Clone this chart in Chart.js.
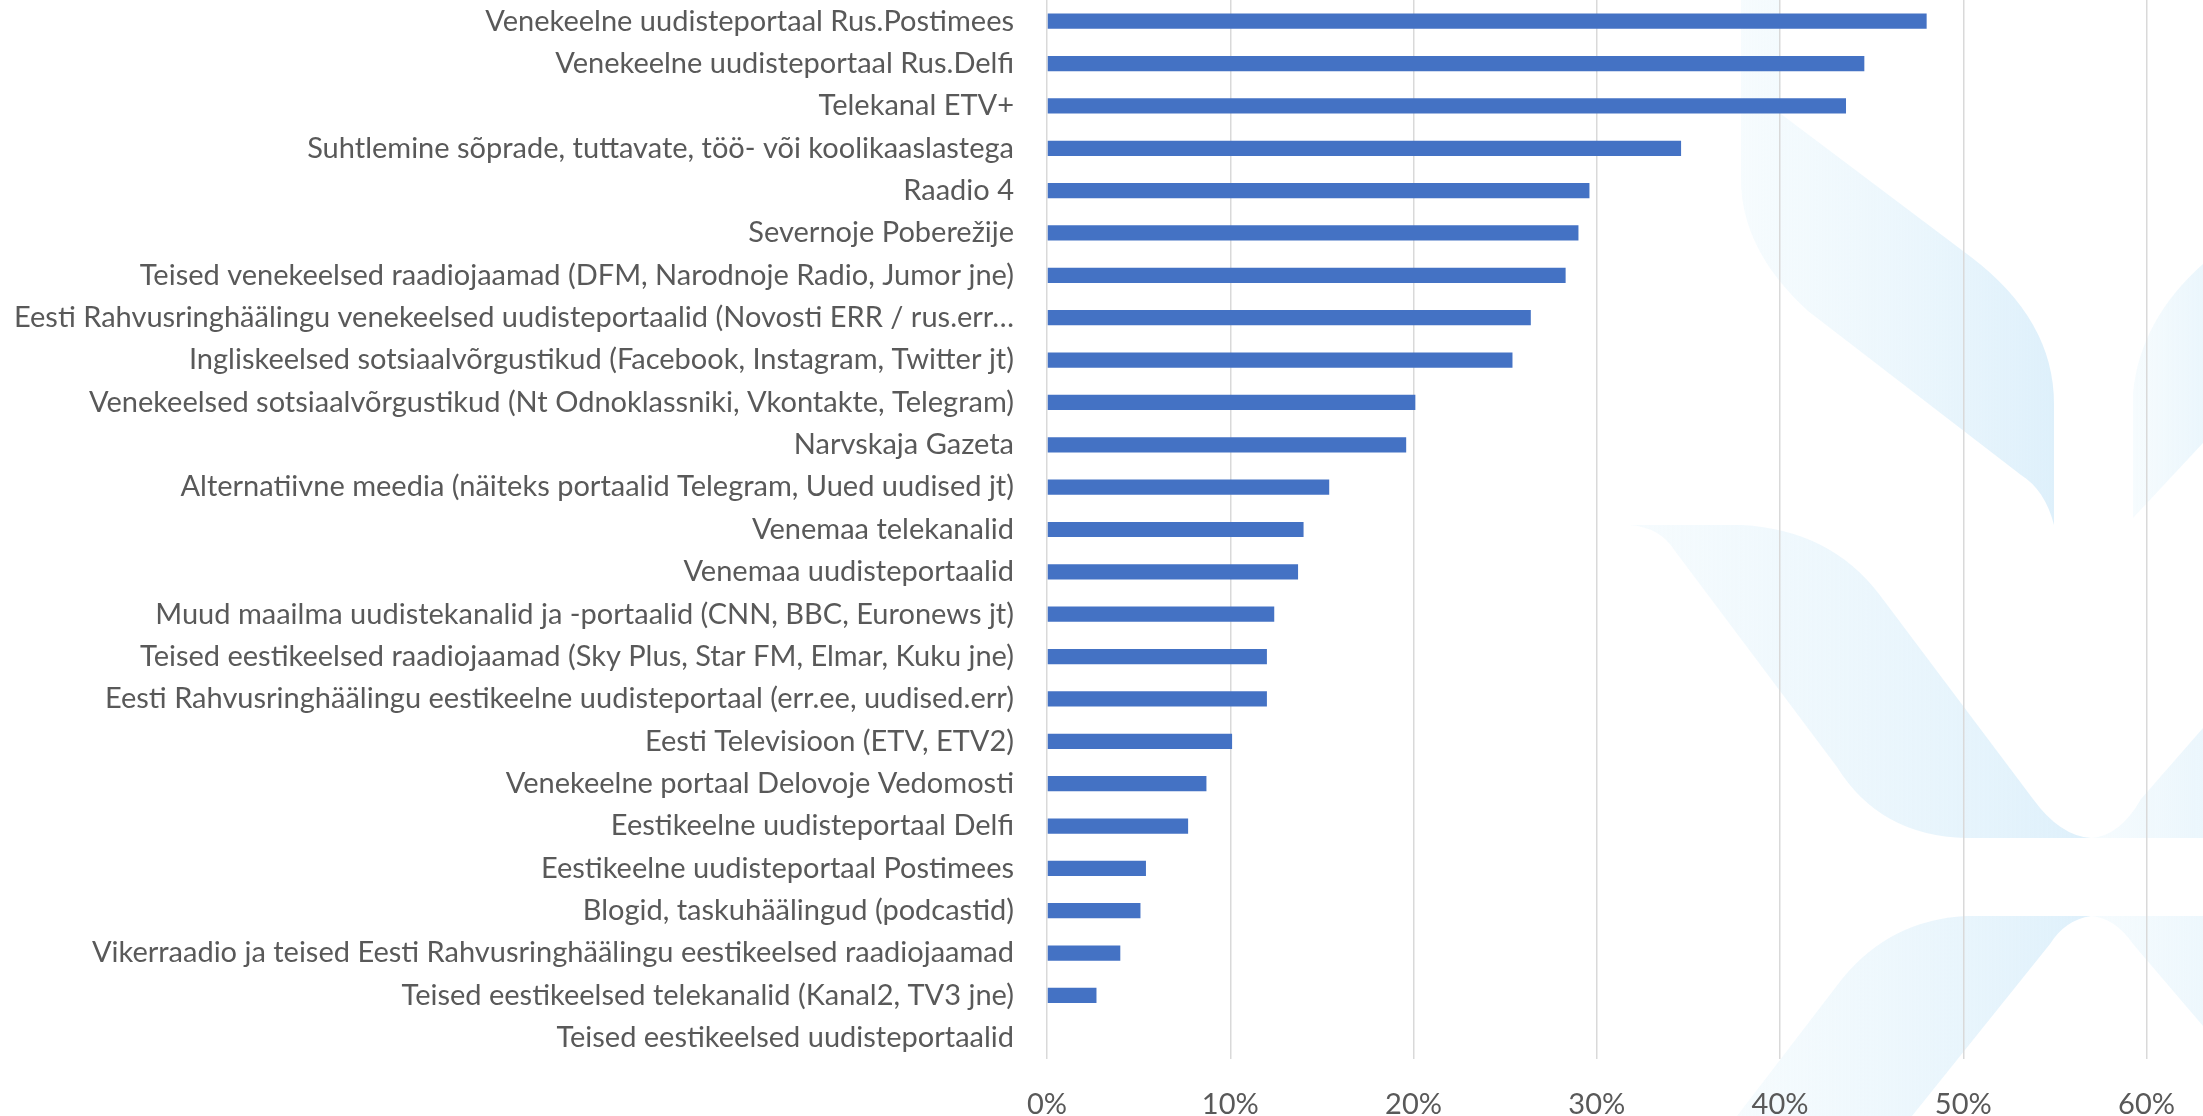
<!DOCTYPE html>
<html>
<head>
<meta charset="utf-8">
<script src="https://cdn.jsdelivr.net/npm/chart.js@4/dist/chart.umd.min.js"></script>
<style>
    html, body { margin: 0; padding: 0; background: #fff; }
    #wrap { width: 2203px; height: 1116px; position: relative; }
</style>
</head>
<body>
<div id="wrap"><canvas id="chart" width="2203" height="1116"></canvas></div>
<script>
const categories = [
    'Venekeelne uudisteportaal Rus.Postimees',
    'Venekeelne uudisteportaal Rus.Delfi',
    'Telekanal ETV+',
    'Suhtlemine sõprade, tuttavate, töö- või koolikaaslastega',
    'Raadio 4',
    'Severnoje Poberežije',
    'Teised venekeelsed raadiojaamad (DFM, Narodnoje Radio, Jumor jne)',
    'Eesti Rahvusringhäälingu venekeelsed uudisteportaalid (Novosti ERR / rus.err…',
    'Ingliskeelsed sotsiaalvõrgustikud (Facebook, Instagram, Twitter jt)',
    'Venekeelsed sotsiaalvõrgustikud (Nt Odnoklassniki, Vkontakte, Telegram)',
    'Narvskaja Gazeta',
    'Alternatiivne meedia (näiteks portaalid Telegram, Uued uudised jt)',
    'Venemaa telekanalid',
    'Venemaa uudisteportaalid',
    'Muud maailma uudistekanalid ja -portaalid (CNN, BBC, Euronews jt)',
    'Teised eestikeelsed raadiojaamad (Sky Plus, Star FM, Elmar, Kuku jne)',
    'Eesti Rahvusringhäälingu eestikeelne uudisteportaal (err.ee, uudised.err)',
    'Eesti Televisioon (ETV, ETV2)',
    'Venekeelne portaal Delovoje Vedomosti',
    'Eestikeelne uudisteportaal Delfi',
    'Eestikeelne uudisteportaal Postimees',
    'Blogid, taskuhäälingud (podcastid)',
    'Vikerraadio ja teised Eesti Rahvusringhäälingu eestikeelsed raadiojaamad',
    'Teised eestikeelsed telekanalid (Kanal2, TV3 jne)',
    'Teised eestikeelsed uudisteportaalid'
];
const shares = [48.0, 44.6, 43.6, 34.6, 29.6, 29.0, 28.3, 26.4, 25.4, 20.1,
    19.6, 15.4, 14.0, 13.7, 12.4, 12.0, 12.0, 10.1, 8.7, 7.7,
    5.4, 5.1, 4.0, 2.7, 0];
const xTicks = [0, 10, 20, 30, 40, 50, 60];

const fontFamily = "Lato, 'Liberation Sans', sans-serif";
const textColor = '#595959';

// faint logo shapes behind the plot, each with its own left-to-right fade
function fadeShape(ctx, x0, x1, draw) {
    const g = ctx.createLinearGradient(x0, 0, x1, 0);
    g.addColorStop(0, 'rgba(240,249,253,0.6)');
    g.addColorStop(1, 'rgba(222,240,251,1)');
    ctx.fillStyle = g;
    ctx.beginPath();
    draw();
    ctx.closePath();
    ctx.fill();
}

const watermark = {
    id: 'watermark',
    beforeDraw(chart) {
        const ctx = chart.ctx;
        ctx.save();
        fadeShape(ctx, 1741, 2054, () => {
            ctx.moveTo(1741, 0);
            ctx.lineTo(1779, 0);
            ctx.lineTo(1781, 114);
            ctx.lineTo(1971, 257);
            ctx.quadraticCurveTo(2054, 320, 2054, 404);
            ctx.lineTo(2054, 525);
            ctx.quadraticCurveTo(2045, 490, 2021, 475);
            ctx.lineTo(1808, 311);
            ctx.quadraticCurveTo(1741, 250, 1741, 179);
        });
        fadeShape(ctx, 2133, 2260, () => {
            ctx.moveTo(2133, 518);
            ctx.lineTo(2133, 393);
            ctx.quadraticCurveTo(2140, 320, 2203, 264);
            ctx.lineTo(2203, 443);
        });
        fadeShape(ctx, 1629, 2091, () => {
            ctx.moveTo(1629, 525);
            ctx.lineTo(1742, 525);
            ctx.quadraticCurveTo(1830, 530, 1879, 594);
            ctx.lineTo(2033, 799);
            ctx.quadraticCurveTo(2060, 836, 2091, 838);
            ctx.lineTo(1966, 838);
            ctx.quadraticCurveTo(1880, 836, 1837, 767);
            ctx.lineTo(1675, 551);
            ctx.quadraticCurveTo(1660, 527, 1629, 525);
        });
        fadeShape(ctx, 2091, 2300, () => {
            ctx.moveTo(2091, 838);
            ctx.quadraticCurveTo(2120, 836, 2141, 799);
            ctx.lineTo(2203, 728);
            ctx.lineTo(2203, 838);
        });
        fadeShape(ctx, 1737, 2091, () => {
            ctx.moveTo(1966, 916);
            ctx.lineTo(2091, 916);
            ctx.quadraticCurveTo(2065, 920, 2050, 944);
            ctx.lineTo(1912, 1116);
            ctx.lineTo(1737, 1116);
            ctx.lineTo(1842, 979);
            ctx.quadraticCurveTo(1890, 920, 1966, 916);
        });
        fadeShape(ctx, 2091, 2350, () => {
            ctx.moveTo(2091, 916);
            ctx.lineTo(2203, 916);
            ctx.lineTo(2203, 1026);
            ctx.lineTo(2133, 944);
            ctx.quadraticCurveTo(2115, 918, 2091, 916);
        });
        ctx.restore();
    }
};

new Chart(document.getElementById('chart').getContext('2d'), {
    type: 'bar',
    data: {
        labels: categories,
        datasets: [{
            data: shares,
            backgroundColor: '#4472C4',
            borderWidth: 0,
            categoryPercentage: 1,
            barPercentage: 0.36
        }]
    },
    options: {
        indexAxis: 'y',
        responsive: false,
        animation: false,
        layout: { padding: { top: 0, right: 55, bottom: 0, left: 0 } },
        plugins: {
            legend: { display: false },
            tooltip: { enabled: false }
        },
        scales: {
            x: {
                min: 0,
                max: 60,
                afterBuildTicks: axis => { axis.ticks = xTicks.map(v => ({ value: v })); },
                afterFit: axis => { axis.height = 57; },
                grid: { color: '#d9d9d9', lineWidth: 1.5, drawTicks: false },
                border: { display: false },
                ticks: {
                    padding: 28,
                    color: textColor,
                    font: { family: fontFamily, size: 29 },
                    callback: v => v + '%'
                }
            },
            y: {
                afterFit: axis => {
                    axis.width = 1047;
                    axis.paddingTop = 0;
                    axis.paddingBottom = 0;
                },
                grid: { display: false },
                border: { display: false },
                ticks: {
                    autoSkip: false,
                    padding: 25,
                    color: textColor,
                    font: { family: fontFamily, size: 29 }
                }
            }
        }
    },
    plugins: [watermark]
});
</script>
</body>
</html>
